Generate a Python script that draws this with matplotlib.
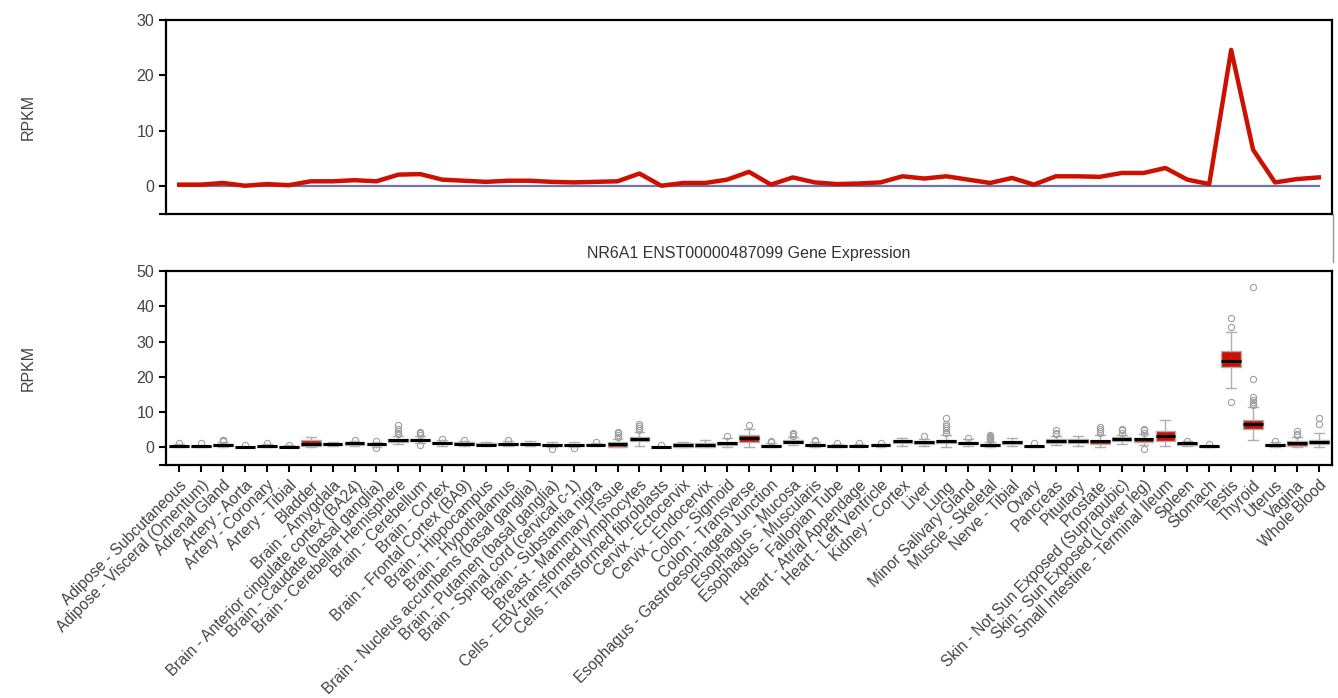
import matplotlib
matplotlib.use("Agg")
import matplotlib.pyplot as plt
from matplotlib.lines import Line2D

plt.rcParams['font.family'] = ['Liberation Sans', 'DejaVu Sans']

tissues = [
    "Adipose - Subcutaneous", "Adipose - Visceral (Omentum)", "Adrenal Gland",
    "Artery - Aorta", "Artery - Coronary", "Artery - Tibial", "Bladder",
    "Brain - Amygdala", "Brain - Anterior cingulate cortex (BA24)",
    "Brain - Caudate (basal ganglia)", "Brain - Cerebellar Hemisphere",
    "Brain - Cerebellum", "Brain - Cortex", "Brain - Frontal Cortex (BA9)",
    "Brain - Hippocampus", "Brain - Hypothalamus",
    "Brain - Nucleus accumbens (basal ganglia)", "Brain - Putamen (basal ganglia)",
    "Brain - Spinal cord (cervical c-1)", "Brain - Substantia nigra",
    "Breast - Mammary Tissue", "Cells - EBV-transformed lymphocytes",
    "Cells - Transformed fibroblasts", "Cervix - Ectocervix", "Cervix - Endocervix",
    "Colon - Sigmoid", "Colon - Transverse",
    "Esophagus - Gastroesophageal Junction", "Esophagus - Mucosa",
    "Esophagus - Muscularis", "Fallopian Tube", "Heart - Atrial Appendage",
    "Heart - Left Ventricle", "Kidney - Cortex", "Liver", "Lung",
    "Minor Salivary Gland", "Muscle - Skeletal", "Nerve - Tibial", "Ovary",
    "Pancreas", "Pituitary", "Prostate", "Skin - Not Sun Exposed (Suprapubic)",
    "Skin - Sun Exposed (Lower leg)", "Small Intestine - Terminal Ileum",
    "Spleen", "Stomach", "Testis", "Thyroid", "Uterus", "Vagina", "Whole Blood",
]

# per-tissue expression summary (RPKM)
median_rpkm = [0.3, 0.3, 0.6, 0.1, 0.4, 0.2, 0.9, 0.9, 1.1, 0.9, 2.1, 2.2, 1.2,
               1.0, 0.8, 1.0, 1.0, 0.8, 0.7, 0.8, 0.9, 2.3, 0.1, 0.6, 0.6, 1.2,
               2.6, 0.3, 1.6, 0.7, 0.4, 0.5, 0.7, 1.8, 1.4, 1.8, 1.2, 0.6, 1.5,
               0.3, 1.8, 1.8, 1.7, 2.4, 2.4, 3.3, 1.2, 0.4, 24.6, 6.6, 0.7, 1.3, 1.6]
q1_rpkm = [0.2, 0.1, 0.4, 0.0, 0.2, 0.1, 0.5, 0.6, 0.8, 0.6, 1.6, 1.7, 0.9,
           0.8, 0.6, 0.7, 0.7, 0.5, 0.4, 0.6, 0.2, 1.7, 0.0, 0.2, 0.2, 0.8,
           1.5, 0.2, 1.3, 0.4, 0.2, 0.3, 0.3, 1.2, 1.0, 1.1, 0.9, 0.3, 1.0,
           0.1, 1.3, 1.3, 1.0, 1.7, 1.6, 1.8, 0.8, 0.1, 22.9, 5.1, 0.4, 0.5, 0.9]
q3_rpkm = [0.5, 0.4, 0.9, 0.2, 0.5, 0.3, 2.0, 1.1, 1.4, 1.1, 2.4, 2.5, 1.5,
           1.4, 1.1, 1.3, 1.3, 1.0, 0.9, 1.0, 1.4, 2.9, 0.2, 1.1, 1.1, 1.6,
           3.4, 0.6, 2.0, 0.9, 0.6, 0.7, 0.9, 2.1, 1.7, 2.1, 1.6, 0.9, 1.7,
           0.5, 2.3, 2.3, 2.1, 2.8, 2.7, 4.7, 1.3, 0.5, 27.2, 7.7, 0.9, 1.8, 2.2]
whisker_low = [0.0, 0.0, 0.1, 0.0, 0.0, 0.0, 0.2, 0.3, 0.4, 0.2, 1.0, 1.1, 0.5,
               0.4, 0.3, 0.3, 0.3, 0.1, 0.1, 0.3, 0.0, 0.3, 0.0, 0.0, 0.0, 0.2,
               0.1, 0.0, 0.6, 0.1, 0.0, 0.0, 0.0, 0.3, 0.3, 0.2, 0.3, 0.0, 0.5,
               0.0, 0.6, 0.5, 0.0, 0.9, 0.6, 0.3, 0.5, 0.0, 16.9, 2.0, 0.0, 0.0, 0.2]
whisker_high = [0.9, 0.8, 1.5, 0.4, 0.9, 0.6, 3.0, 1.5, 1.9, 1.6, 3.3, 3.2, 2.0,
                1.8, 1.5, 1.7, 1.7, 1.4, 1.4, 1.3, 2.4, 4.4, 0.3, 1.6, 2.2, 2.6,
                5.3, 1.1, 2.8, 1.4, 0.9, 1.0, 1.0, 2.6, 2.5, 3.4, 2.3, 1.6, 2.6,
                0.8, 3.2, 3.3, 3.4, 3.6, 3.7, 7.7, 1.7, 0.8, 32.8, 11.5, 1.4, 2.9, 4.1]
outliers = [
    [1.2], [1.1], [1.8, 2.0, 2.2], [0.6], [1.1], [0.8], [],
    [], [2.1], [-0.2, 1.8], [3.8, 4.2, 4.6, 5.2, 6.2], [0.8, 3.6, 4.0, 4.4],
    [2.3], [2.1], [], [2.0], [], [-0.4], [-0.3], [1.6],
    [3.0, 3.5, 4.0, 4.4], [4.9, 5.4, 6.0, 6.5], [0.6], [], [], [3.1],
    [6.4], [1.5, 1.9], [3.3, 3.7, 4.1], [1.7, 2.1], [1.1], [1.3],
    [1.2], [], [3.1], [4.2, 4.8, 5.4, 6.0, 6.6, 8.4], [2.6],
    [2.0, 2.3, 2.6, 2.9, 3.2, 3.6], [], [1.1], [3.7, 4.2, 4.8], [],
    [4.0, 4.6, 5.3, 5.8], [4.2, 4.8, 5.2], [-0.5, 4.2, 4.8, 5.3], [],
    [1.9], [1.0], [12.8, 34.1, 36.7],
    [11.9, 12.4, 12.9, 13.4, 14.3, 19.5, 45.4], [1.8], [3.4, 3.9, 4.5], [6.5, 8.2],
]

RED = "#cc1100"
TEXT = "#444444"

fig = plt.figure(figsize=(13.38, 6.98), dpi=100)
ax_top = fig.add_axes([0.1241, 0.6934, 0.8714, 0.278])
ax_box = fig.add_axes([0.1241, 0.3338, 0.8714, 0.278])

x = list(range(len(tissues)))

# line panel
ax_top.plot(x, [0] * len(x), color="#7074ad", lw=1.6, zorder=2)
ax_top.plot(x, median_rpkm, color=RED, lw=3.2, zorder=3)
ax_top.set_ylim(-5, 30)
ax_top.set_yticks([-5, 0, 10, 20, 30])
ax_top.set_yticklabels(["", "0", "10", "20", "30"])
ax_top.set_xticks([])

# box panel
stats = []
for i in range(len(tissues)):
    stats.append(dict(med=median_rpkm[i], q1=q1_rpkm[i], q3=q3_rpkm[i],
                      whislo=whisker_low[i], whishi=whisker_high[i],
                      fliers=outliers[i]))
ax_box.bxp(stats, positions=x, widths=0.9, capwidths=0.45, patch_artist=True,
           boxprops=dict(facecolor=RED, edgecolor="#b0b0b0", linewidth=1.0),
           medianprops=dict(color="black", linewidth=2.2),
           whiskerprops=dict(color="#b0b0b0", linewidth=1.0),
           capprops=dict(color="#b0b0b0", linewidth=1.0),
           flierprops=dict(marker="o", markersize=4.5, markerfacecolor="none",
                           markeredgecolor="#a0a0a0", markeredgewidth=0.8))
ax_box.set_ylim(-5, 50)
ax_box.set_yticks([-5, 0, 10, 20, 30, 40, 50])
ax_box.set_yticklabels(["", "0", "10", "20", "30", "40", "50"])
ax_box.set_xticks(x)
ax_box.set_xticklabels(tissues, rotation=45, ha="right", rotation_mode="anchor",
                       fontsize=11.2, color=TEXT)
ax_box.set_title("NR6A1 ENST00000487099 Gene Expression", fontsize=11.5,
                 color="#333333", pad=9)

for ax in (ax_top, ax_box):
    ax.set_xlim(-0.6, 52.6)
    for sp in ax.spines.values():
        sp.set_linewidth(1.6)
        sp.set_color("black")
    ax.tick_params(axis="y", length=5, width=1.5, color="black",
                   labelsize=11.5, labelcolor=TEXT)
ax_box.tick_params(axis="x", length=5, width=1.5, color="black", pad=4)

fig.text(28 / 1338, 1 - 117 / 698, "RPKM", rotation=90, ha="center",
         va="center", fontsize=11.5, color=TEXT)
fig.text(28 / 1338, 1 - 368 / 698, "RPKM", rotation=90, ha="center",
         va="center", fontsize=11.5, color=TEXT)

# thin grey edge on the right between the panels
fig.add_artist(Line2D([1333 / 1338, 1333 / 1338], [1 - 214 / 698, 1 - 262 / 698],
                      color="#999999", lw=1.0))

fig.savefig("out.png", dpi=100, facecolor="white")
